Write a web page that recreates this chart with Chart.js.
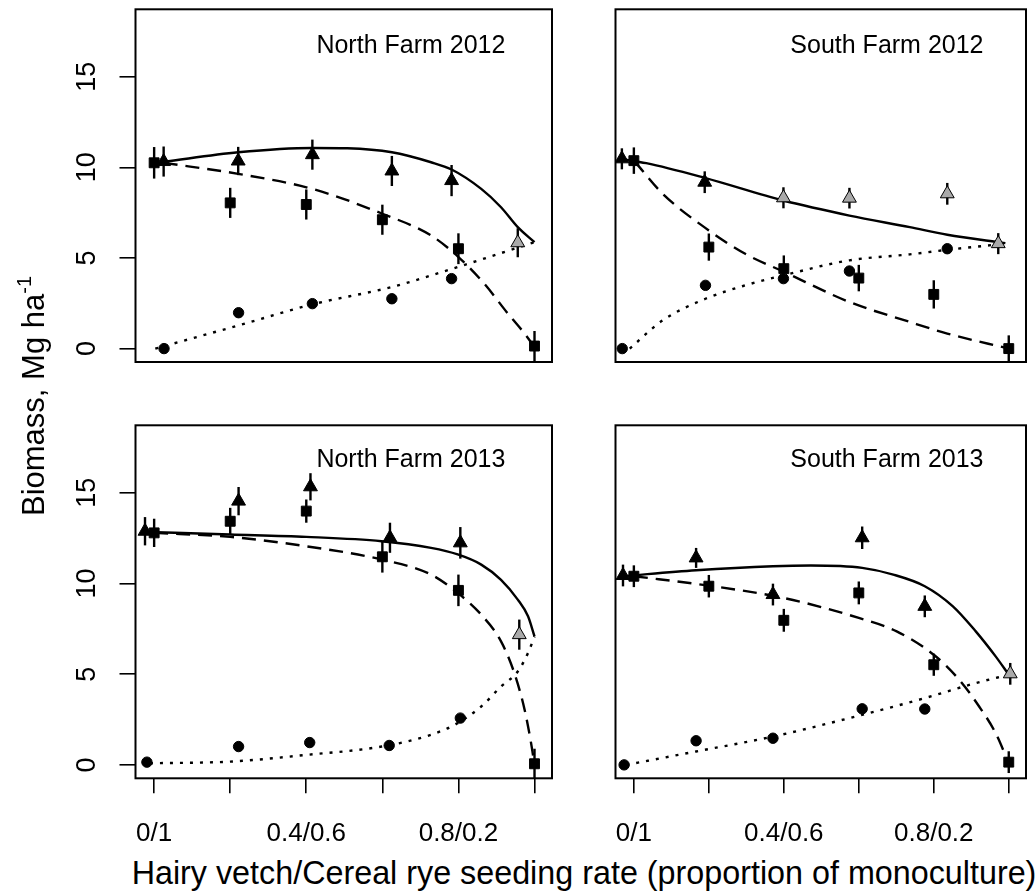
<!DOCTYPE html>
<html>
<head>
<meta charset="utf-8">
<title>Biomass by seeding rate</title>
<script src="https://cdn.jsdelivr.net/npm/chart.js@4.4.1/dist/chart.umd.min.js"></script>
<style>
  html, body { margin: 0; padding: 0; background: #fff; }
  #page { position: relative; width: 1035px; height: 892px; overflow: hidden;
          font-family: 'Liberation Sans', Arial, sans-serif; color: #000; }
  canvas { position: absolute; }
  #xlab { position: absolute; left: 84px; width: 1000px; top: 857px; text-align: center;
          font-size: 32.3px; line-height: 32px; white-space: nowrap; }
  #ylab { position: absolute; width: 500px; height: 40px; left: -216px; top: 376px;
          line-height: 40px; text-align: center; font-size: 31px; white-space: nowrap;
          transform: rotate(-90deg); }
  #ylab sup { font-size: 20px; vertical-align: 0; position: relative; top: -13px; }
</style>
</head>
<body>
<div id="page">
  <canvas id="nf12" width="580" height="400" style="left:0;top:0"></canvas>
  <canvas id="sf12" width="455" height="400" style="left:580px;top:0"></canvas>
  <canvas id="nf13" width="580" height="450" style="left:0;top:400px"></canvas>
  <canvas id="sf13" width="455" height="450" style="left:580px;top:400px"></canvas>
  <div id="ylab">Biomass, Mg ha<sup>-1</sup></div>
  <div id="xlab">Hairy vetch/Cereal rye seeding rate (proportion of monoculture)</div>
</div>
<script>
// ---- axis text ----
const panelTitles = ['North Farm 2012', 'South Farm 2012', 'North Farm 2013', 'South Farm 2013'];
const xTickValues = [0, 0.2, 0.4, 0.6, 0.8, 1.0];
const xTickLabels = ['0/1', '', '0.4/0.6', '', '0.8/0.2', ''];
const yTickValues = [0, 5, 10, 15];
const yTickLabels = ['0', '5', '10', '15'];

// ---- North Farm 2012 ----
// mixture total (triangles), sig 0 = grey symbol
const nf12MixX = [0.025, 0.221, 0.416, 0.625, 0.782, 0.956];
const nf12MixY = [10.32, 10.35, 10.7, 9.8, 9.27, 5.84];
const nf12MixErr = [0.83, 0.78, 0.83, 0.83, 0.86, 0.8];
const nf12MixSig = [1, 1, 1, 1, 1, 0];
// cereal rye (squares)
const nf12RyeX = [0, 0.2, 0.4, 0.6, 0.8, 1.0];
const nf12RyeY = [10.25, 8.04, 7.95, 7.11, 5.51, 0.14];
const nf12RyeErr = [0.87, 0.83, 0.83, 0.83, 0.85, 0.83];
// hairy vetch (circles)
const nf12VetchX = [0.026, 0.222, 0.416, 0.625, 0.782];
const nf12VetchY = [0.0, 1.98, 2.48, 2.75, 3.86];
const nf12VetchErr = [0.1, 0.2, 0.2, 0.15, 0.25];
// fitted curves
const nf12FitMixX = [0.025, 0.221, 0.416, 0.508, 0.625, 0.728, 0.782, 0.86, 0.912, 0.956, 1.0];
const nf12FitMixY = [10.3, 10.83, 11.07, 11.05, 10.83, 10.28, 9.88, 8.81, 7.8, 6.7, 5.87];
const nf12FitRyeX = [0.025, 0.221, 0.416, 0.6, 0.728, 0.8, 0.868, 0.93, 0.974, 1.0];
const nf12FitRyeY = [10.25, 9.64, 8.81, 7.44, 6.24, 5.05, 3.58, 1.93, 0.83, 0.09];
const nf12FitVetchX = [0.003, 0.222, 0.416, 0.625, 0.798, 1.0];
const nf12FitVetchY = [0.0, 1.28, 2.44, 3.4, 4.5, 5.87];

// ---- South Farm 2012 ----
const sf12MixX = [-0.032, 0.189, 0.399, 0.575, 0.836, 0.972];
const sf12MixY = [10.47, 9.18, 8.32, 8.3, 8.54, 5.79];
const sf12MixErr = [0.58, 0.6, 0.58, 0.57, 0.6, 0.58];
const sf12MixSig = [1, 1, 0, 0, 0, 0];
const sf12RyeX = [0, 0.2, 0.4, 0.6, 0.8, 1.0];
const sf12RyeY = [10.37, 5.6, 4.41, 3.89, 2.99, 0.0];
const sf12RyeErr = [0.73, 0.75, 0.73, 0.73, 0.78, 0.73];
const sf12VetchX = [-0.031, 0.191, 0.399, 0.575, 0.836];
const sf12VetchY = [0.0, 3.49, 3.86, 4.28, 5.51];
const sf12VetchErr = [0.1, 0.15, 0.15, 0.15, 0.15];
const sf12FitMixX = [-0.032, 0.033, 0.189, 0.399, 0.575, 0.736, 0.836, 0.991];
const sf12FitMixY = [10.45, 10.23, 9.42, 8.17, 7.34, 6.7, 6.28, 5.82];
const sf12FitRyeX = [0.002, 0.077, 0.2, 0.297, 0.402, 0.575, 0.736, 0.836, 1.0];
const sf12FitRyeY = [10.33, 8.54, 6.52, 5.23, 4.22, 2.57, 1.47, 0.83, 0.0];
const sf12FitVetchX = [-0.011, 0.077, 0.191, 0.297, 0.399, 0.575, 0.736, 0.836, 0.991];
const sf12FitVetchY = [0.0, 1.56, 2.75, 3.49, 4.04, 4.87, 5.2, 5.45, 5.79];

// ---- North Farm 2013 ----
const nf13MixX = [-0.024, 0.222, 0.411, 0.62, 0.805, 0.96];
const nf13MixY = [12.88, 14.54, 15.33, 12.52, 12.24, 7.18];
const nf13MixErr = [0.78, 0.78, 0.75, 0.83, 0.87, 0.83];
const nf13MixSig = [1, 1, 1, 1, 1, 0];
const nf13RyeX = [0, 0.2, 0.4, 0.6, 0.8, 1.0];
const nf13RyeY = [12.79, 13.43, 13.99, 11.47, 9.62, 0.06];
const nf13RyeErr = [0.78, 0.74, 0.64, 0.87, 0.87, 0.83];
const nf13VetchX = [-0.019, 0.222, 0.409, 0.618, 0.805];
const nf13VetchY = [0.15, 1.01, 1.23, 1.07, 2.58];
const nf13VetchErr = [0.1, 0.1, 0.1, 0.1, 0.15];
const nf13FitMixX = [-0.019, 0.2, 0.4, 0.598, 0.728, 0.798, 0.86, 0.912, 0.956, 0.983, 1.0];
const nf13FitMixY = [12.84, 12.7, 12.57, 12.33, 11.96, 11.6, 11.04, 10.2, 9.11, 8.19, 7.08];
const nf13FitRyeX = [0, 0.2, 0.4, 0.598, 0.728, 0.798, 0.86, 0.912, 0.947, 0.974, 0.991, 1.0];
const nf13FitRyeY = [12.79, 12.57, 12.05, 11.32, 10.49, 9.48, 8.28, 6.81, 5.06, 3.04, 1.2, 0.0];
const nf13FitVetchX = [-0.011, 0.2, 0.4, 0.598, 0.728, 0.798, 0.86, 0.912, 0.956, 0.983, 1.0];
const nf13FitVetchY = [0.09, 0.18, 0.55, 1.01, 1.66, 2.3, 3.22, 4.32, 5.15, 6.17, 7.08];

// ---- South Farm 2013 ----
const sf13MixX = [-0.029, 0.166, 0.371, 0.609, 0.776, 1.004];
const sf13MixY = [10.44, 11.41, 9.39, 12.52, 8.74, 5.02];
const sf13MixErr = [0.6, 0.55, 0.6, 0.62, 0.6, 0.6];
const sf13MixSig = [1, 1, 1, 1, 1, 0];
const sf13RyeX = [0, 0.2, 0.4, 0.6, 0.8, 1.0];
const sf13RyeY = [10.4, 9.85, 7.97, 9.48, 5.52, 0.15];
const sf13RyeErr = [0.6, 0.62, 0.63, 0.63, 0.61, 0.6];
const sf13VetchX = [-0.026, 0.166, 0.371, 0.609, 0.776];
const sf13VetchY = [0.0, 1.33, 1.47, 3.09, 3.08];
const sf13VetchErr = [0.1, 0.1, 0.1, 0.12, 0.12];
const sf13FitMixX = [-0.029, 0.166, 0.371, 0.472, 0.609, 0.692, 0.776, 0.851, 0.912, 0.965, 1.0];
const sf13FitMixY = [10.4, 10.73, 10.95, 10.99, 10.86, 10.49, 9.85, 8.74, 7.36, 5.98, 4.97];
const sf13FitRyeX = [0, 0.2, 0.4, 0.6, 0.701, 0.8, 0.868, 0.921, 0.965, 1.0];
const sf13FitRyeY = [10.4, 9.88, 9.2, 8.1, 7.36, 6.07, 4.69, 3.22, 1.75, 0.09];
const sf13FitVetchX = [-0.02, 0.166, 0.371, 0.609, 0.776, 0.912, 1.0];
const sf13FitVetchY = [0.0, 0.74, 1.56, 2.76, 3.68, 4.51, 4.97];

const FONT = "'Liberation Sans', Arial, sans-serif";
const GREY = '#a9a9a9';

function pts(xs, ys) {
    return xs.map((x, i) => ({ x: x, y: ys[i] }));
}

function markerSet(xs, ys, errs, style, radius, fills) {
    return {
        data: pts(xs, ys),
        errorBars: errs,
        showLine: false,
        pointStyle: style,
        pointRadius: radius,
        pointBorderWidth: 1,
        pointBorderColor: '#000',
        pointBackgroundColor: fills || '#000'
    };
}

function curveSet(xs, ys, dash) {
    return {
        data: pts(xs, ys),
        showLine: true,
        borderColor: '#000',
        borderWidth: 2.4,
        borderDash: dash,
        pointRadius: 0,
        cubicInterpolationMode: 'monotone',
        fill: false
    };
}

// error bars, panel box, rotated y tick labels and the panel title
const panelDeco = {
    id: 'panelDeco',
    beforeDatasetsDraw(chart) {
        const ctx = chart.ctx;
        const xs = chart.scales.x, ys = chart.scales.y;
        ctx.save();
        ctx.strokeStyle = '#000';
        ctx.lineWidth = 2.4;
        chart.data.datasets.forEach(ds => {
            if (!ds.errorBars) return;
            ds.data.forEach((p, i) => {
                const e = ds.errorBars[i];
                const px = xs.getPixelForValue(p.x);
                ctx.beginPath();
                ctx.moveTo(px, ys.getPixelForValue(p.y - e));
                ctx.lineTo(px, ys.getPixelForValue(p.y + e));
                ctx.stroke();
            });
        });
        ctx.restore();
    },
    afterDraw(chart, args, opts) {
        const ctx = chart.ctx;
        const a = chart.chartArea;
        const xs = chart.scales.x, ys = chart.scales.y;
        ctx.save();
        ctx.strokeStyle = '#000';
        ctx.lineWidth = 2;
        ctx.strokeRect(a.left, a.top, a.right - a.left, a.bottom - a.top);

        ctx.fillStyle = '#000';
        ctx.font = '25px ' + FONT;
        ctx.textAlign = 'center';
        ctx.textBaseline = 'alphabetic';
        ctx.fillText(opts.title, xs.getPixelForValue(0.675), ys.getPixelForValue(opts.titleY));

        if (opts.yLabels) {
            ctx.font = '27px ' + FONT;
            ctx.textBaseline = 'middle';
            yTickValues.forEach((v, i) => {
                ctx.save();
                ctx.translate(a.left - 48, ys.getPixelForValue(v));
                ctx.rotate(-Math.PI / 2);
                ctx.fillText(yTickLabels[i], 0, 0);
                ctx.restore();
            });
        }
        ctx.restore();
    }
};

function makePanel(id, idx, d) {
    const col = idx % 2, row = Math.floor(idx / 2);
    const showX = row === 1, showY = col === 0;
    const canvas = document.getElementById(id);
    const W = canvas.width, H = canvas.height;
    const boxTop = row === 0 ? 9.3 : 25.3;
    const boxBottom = row === 0 ? 362 : 378.3;
    const boxLeft = col === 0 ? 135.5 : 615.5 - 580;
    const boxRight = col === 0 ? 552 : 1032 - 580;
    const yAxisW = 60, xAxisH = 70;

    const mixFill = d.mixSig.map(s => s ? '#000' : GREY);

    return new Chart(canvas, {
        type: 'scatter',
        data: {
            datasets: [
                markerSet(d.mixX, d.mixY, d.mixErr, 'triangle', 8, mixFill),
                markerSet(d.ryeX, d.ryeY, d.ryeErr, 'rect', 7, '#000'),
                markerSet(d.vetchX, d.vetchY, d.vetchErr, 'circle', 5.2, '#000'),
                curveSet(d.fitMixX, d.fitMixY, []),
                curveSet(d.fitRyeX, d.fitRyeY, [14, 8]),
                curveSet(d.fitVetchX, d.fitVetchY, [3, 7])
            ]
        },
        options: {
            responsive: false,
            animation: false,
            events: [],
            layout: {
                padding: {
                    left: showY ? boxLeft - yAxisW : boxLeft,
                    right: W - boxRight,
                    top: boxTop,
                    bottom: showX ? H - boxBottom - xAxisH : H - boxBottom
                }
            },
            plugins: {
                legend: { display: false },
                tooltip: { enabled: false },
                panelDeco: { title: panelTitles[idx], titleY: row === 0 ? 16.33 : 16.42, yLabels: showY }
            },
            scales: {
                x: {
                    type: 'linear',
                    min: -0.049,
                    max: 1.046,
                    display: showX,
                    afterBuildTicks: s => { s.ticks = xTickValues.map(v => ({ value: v })); },
                    afterFit: s => { s.height = showX ? xAxisH : 0; },
                    border: { display: false },
                    grid: { drawOnChartArea: false, drawTicks: true, tickLength: 15, color: '#000', lineWidth: 1.6 },
                    ticks: {
                        autoSkip: false,
                        maxRotation: 0,
                        padding: 25,
                        color: '#000',
                        font: { family: FONT, size: 26 },
                        callback: (v, i) => xTickLabels[i]
                    }
                },
                y: {
                    type: 'linear',
                    min: -0.74,
                    max: 18.72,
                    display: showY,
                    afterBuildTicks: s => { s.ticks = yTickValues.map(v => ({ value: v })); },
                    afterFit: s => { s.width = showY ? yAxisW : 0; },
                    border: { display: false },
                    grid: { drawOnChartArea: false, drawTicks: true, tickLength: 16, color: '#000', lineWidth: 1.6 },
                    ticks: { display: false }
                }
            }
        },
        plugins: [panelDeco]
    });
}

makePanel('nf12', 0, {
    mixX: nf12MixX, mixY: nf12MixY, mixErr: nf12MixErr, mixSig: nf12MixSig,
    ryeX: nf12RyeX, ryeY: nf12RyeY, ryeErr: nf12RyeErr,
    vetchX: nf12VetchX, vetchY: nf12VetchY, vetchErr: nf12VetchErr,
    fitMixX: nf12FitMixX, fitMixY: nf12FitMixY, fitRyeX: nf12FitRyeX, fitRyeY: nf12FitRyeY,
    fitVetchX: nf12FitVetchX, fitVetchY: nf12FitVetchY
});
makePanel('sf12', 1, {
    mixX: sf12MixX, mixY: sf12MixY, mixErr: sf12MixErr, mixSig: sf12MixSig,
    ryeX: sf12RyeX, ryeY: sf12RyeY, ryeErr: sf12RyeErr,
    vetchX: sf12VetchX, vetchY: sf12VetchY, vetchErr: sf12VetchErr,
    fitMixX: sf12FitMixX, fitMixY: sf12FitMixY, fitRyeX: sf12FitRyeX, fitRyeY: sf12FitRyeY,
    fitVetchX: sf12FitVetchX, fitVetchY: sf12FitVetchY
});
makePanel('nf13', 2, {
    mixX: nf13MixX, mixY: nf13MixY, mixErr: nf13MixErr, mixSig: nf13MixSig,
    ryeX: nf13RyeX, ryeY: nf13RyeY, ryeErr: nf13RyeErr,
    vetchX: nf13VetchX, vetchY: nf13VetchY, vetchErr: nf13VetchErr,
    fitMixX: nf13FitMixX, fitMixY: nf13FitMixY, fitRyeX: nf13FitRyeX, fitRyeY: nf13FitRyeY,
    fitVetchX: nf13FitVetchX, fitVetchY: nf13FitVetchY
});
makePanel('sf13', 3, {
    mixX: sf13MixX, mixY: sf13MixY, mixErr: sf13MixErr, mixSig: sf13MixSig,
    ryeX: sf13RyeX, ryeY: sf13RyeY, ryeErr: sf13RyeErr,
    vetchX: sf13VetchX, vetchY: sf13VetchY, vetchErr: sf13VetchErr,
    fitMixX: sf13FitMixX, fitMixY: sf13FitMixY, fitRyeX: sf13FitRyeX, fitRyeY: sf13FitRyeY,
    fitVetchX: sf13FitVetchX, fitVetchY: sf13FitVetchY
});
</script>
</body>
</html>
